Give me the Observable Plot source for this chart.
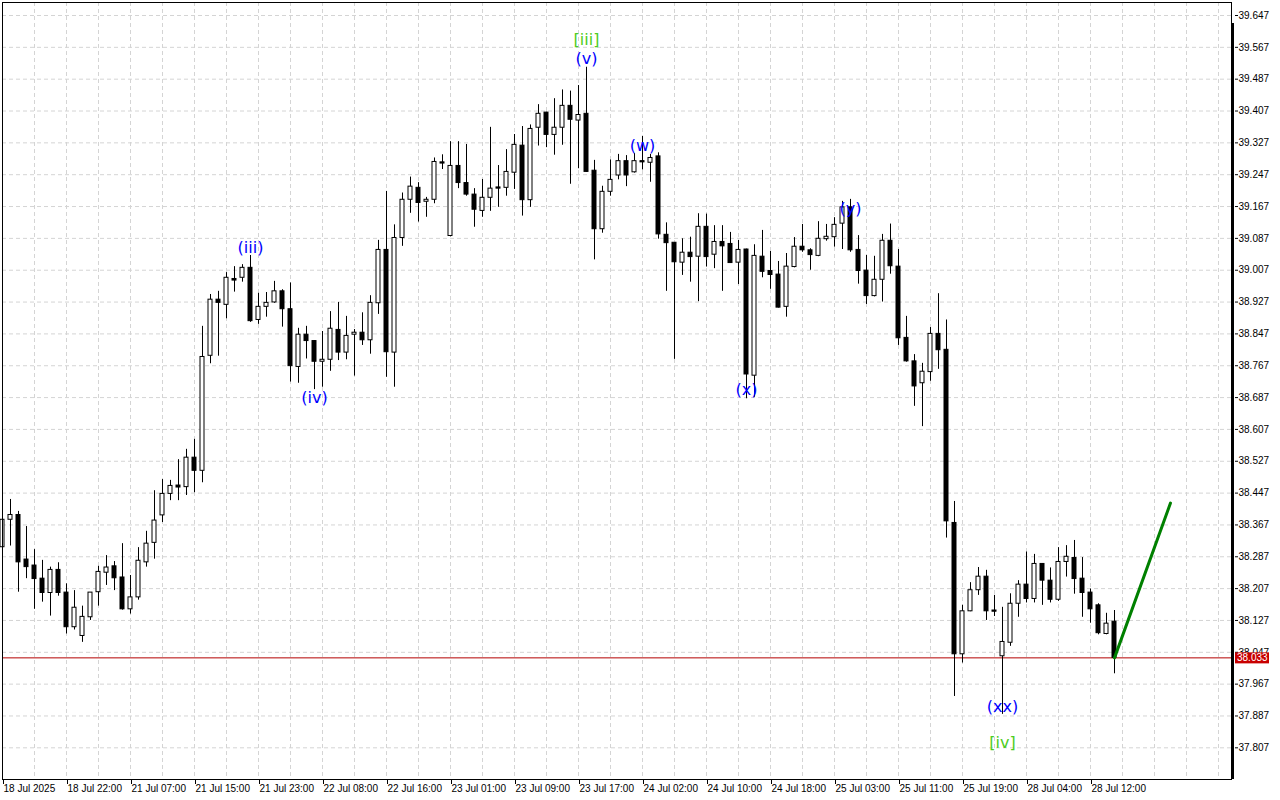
<!DOCTYPE html>
<html><head><meta charset="utf-8">
<script src="https://cdn.jsdelivr.net/npm/d3@7"></script>
<script src="https://cdn.jsdelivr.net/npm/@observablehq/plot@0.6"></script>
<style>html,body{margin:0;padding:0;background:#fff;overflow:hidden}</style>
</head><body><div id="chart"></div>
<script>
// Hourly OHLC bars (index 0 = 18 Jul 2025 14:00)
const opens = [38.311,38.380,38.392,38.280,38.265,38.232,38.196,38.254,38.197,38.110,
38.088,38.135,38.198,38.247,38.263,38.235,38.155,38.185,38.273,38.322,
38.391,38.445,38.466,38.462,38.536,38.503,38.792,38.933,38.920,38.985,
38.988,39.013,38.882,38.915,38.926,38.954,38.909,38.764,38.845,38.829,
38.777,38.782,38.857,38.800,38.845,38.850,38.831,38.924,39.058,38.800,
39.088,39.184,39.214,39.179,39.184,39.278,39.093,39.269,39.226,39.197,
39.156,39.189,39.215,39.214,39.252,39.320,39.183,39.365,39.403,39.347,
39.365,39.420,39.383,39.400,39.257,39.110,39.204,39.245,39.281,39.253,
39.281,39.277,39.293,39.096,39.076,39.026,39.051,39.041,39.116,39.046,
39.078,39.073,39.026,39.059,38.742,39.041,39.005,38.996,38.915,39.015,
39.066,39.057,39.043,39.085,39.090,39.124,39.165,39.058,39.006,38.942,
38.983,39.081,39.016,38.837,38.778,38.723,38.751,38.847,38.807,38.372,
38.042,38.150,38.203,38.237,38.152,38.037,38.071,38.169,38.217,38.181,
38.269,38.227,38.179,38.274,38.284,38.232,38.197,38.165,38.093,38.124];
const highs = [38.398,38.431,38.401,38.363,38.305,38.278,38.261,38.272,38.219,38.202,
38.163,38.197,38.263,38.290,38.275,38.320,38.240,38.310,38.351,38.453,
38.481,38.479,38.531,38.557,38.582,38.866,38.946,38.954,39.001,39.016,
39.021,39.044,38.949,38.951,38.979,38.958,38.975,38.861,38.866,38.830,
38.853,38.903,38.926,38.891,38.858,38.900,38.943,39.082,39.205,39.121,
39.201,39.241,39.227,39.190,39.289,39.297,39.330,39.330,39.323,39.212,
39.235,39.366,39.270,39.310,39.348,39.368,39.372,39.423,39.404,39.438,
39.460,39.457,39.471,39.517,39.283,39.218,39.284,39.298,39.295,39.300,
39.343,39.298,39.302,39.126,39.076,39.086,39.090,39.149,39.148,39.119,
39.119,39.102,39.082,39.060,39.071,39.107,39.054,39.029,39.049,39.089,
39.122,39.061,39.129,39.122,39.139,39.180,39.185,39.094,39.044,39.042,
39.097,39.123,39.059,38.891,38.795,38.773,38.863,38.948,38.882,38.426,
38.165,38.222,38.260,38.253,38.190,38.160,38.194,38.227,38.299,38.293,
38.270,38.259,38.310,38.315,38.328,38.285,38.206,38.169,38.145,38.152];
const lows = [38.303,38.314,38.198,38.232,38.155,38.173,38.138,38.188,38.093,38.103,
38.072,38.127,38.163,38.215,38.202,38.153,38.143,38.178,38.261,38.281,
38.373,38.428,38.428,38.441,38.448,38.473,38.772,38.791,38.885,38.952,
38.977,38.876,38.871,38.889,38.924,38.864,38.726,38.723,38.784,38.707,
38.713,38.753,38.780,38.782,38.741,38.818,38.796,38.896,38.738,38.713,
39.067,39.150,39.128,39.140,39.174,39.260,39.091,39.212,39.193,39.115,
39.140,39.155,39.165,39.193,39.210,39.143,39.165,39.319,39.315,39.296,
39.321,39.223,39.262,39.253,39.033,39.100,39.193,39.234,39.217,39.251,
39.259,39.228,39.085,38.954,38.783,38.994,38.977,38.928,39.015,39.011,
38.954,39.024,38.971,38.684,38.688,38.988,38.959,38.912,38.889,39.013,
39.052,39.007,39.041,39.080,39.065,39.059,39.052,38.972,38.921,38.940,
38.927,38.997,38.818,38.776,38.665,38.614,38.728,38.758,38.334,37.936,
38.020,38.149,38.190,38.127,38.137,37.891,38.062,38.135,38.171,38.171,
38.165,38.171,38.175,38.236,38.193,38.135,38.120,38.091,38.091,37.993];
const closes = [38.380,38.392,38.273,38.261,38.231,38.196,38.254,38.196,38.110,38.159,
38.136,38.197,38.249,38.260,38.233,38.155,38.185,38.277,38.320,38.378,
38.445,38.465,38.461,38.536,38.503,38.789,38.933,38.925,38.988,38.981,
39.013,38.879,38.915,38.925,38.954,38.909,38.766,38.845,38.829,38.777,
38.782,38.860,38.800,38.842,38.850,38.831,38.925,39.058,38.801,39.088,
39.184,39.217,39.176,39.184,39.279,39.275,39.269,39.226,39.197,39.159,
39.189,39.212,39.212,39.254,39.322,39.183,39.362,39.400,39.347,39.365,
39.420,39.385,39.397,39.254,39.110,39.204,39.234,39.281,39.245,39.281,
39.278,39.289,39.097,39.075,39.027,39.051,39.040,39.116,39.040,39.078,
39.067,39.025,39.058,38.745,39.043,39.003,38.995,38.913,39.016,39.066,
39.057,39.045,39.086,39.091,39.121,39.165,39.057,39.005,38.942,38.983,
39.081,39.017,38.836,38.778,38.715,38.752,38.847,38.806,38.376,38.042,
38.150,38.203,38.237,38.150,38.149,38.073,38.169,38.217,38.181,38.269,
38.227,38.179,38.274,38.287,38.231,38.196,38.155,38.095,38.119,38.033];

const currentPrice = 38.033;

// Price axis ticks
const priceTicks = [37.807,37.887,37.967,38.047,38.127,38.207,38.287,38.367,38.447,38.527,
38.607,38.687,38.767,38.847,38.927,39.007,39.087,39.167,39.247,39.327,39.407,39.487,39.567,39.647];

// Time axis ticks (bar index -> label)
const timeTickIndex = [0,8,16,24,32,40,48,56,64,72,80,88,96,104,112,120,128,136];
const timeTickLabels = ["18 Jul 2025","18 Jul 22:00","21 Jul 07:00","21 Jul 15:00","21 Jul 23:00",
"22 Jul 08:00","22 Jul 16:00","23 Jul 01:00","23 Jul 09:00","23 Jul 17:00","24 Jul 02:00",
"24 Jul 10:00","24 Jul 18:00","25 Jul 03:00","25 Jul 11:00","25 Jul 19:00","28 Jul 04:00","28 Jul 12:00"];
const gridIndex = [4,8,12,16,20,24,28,32,36,40,44,48,52,56,60,64,68,72,76,80,84,88,92,96,100,
104,108,112,116,120,124,128,132,136,140,144,148,152];

// Elliott wave labels
const waveText  = ["(iii)","(iv)","[iii]","(v)","(w)","(x)","(y)","(xx)","[iv]"];
const waveIndex = [31,39,73,73,80,93,106,125,125];
const wavePrice = [39.064,38.687,39.587,39.539,39.320,38.707,39.160,37.911,37.820];
const waveColor = ["#0000ff","#0000ff","#4ccc22","#0000ff","#0000ff","#0000ff","#0000ff","#0000ff","#4ccc22"];

// Forecast line
const forecastIndex = [139,146];
const forecastPrice = [38.033,38.422];

const candles = opens.map((o, i) => ({i, open: o, high: highs[i], low: lows[i], close: closes[i], up: closes[i] >= o}));
const waves = waveText.map((t, k) => ({t, i: waveIndex[k], p: wavePrice[k], c: waveColor[k]}));
const forecast = forecastIndex.map((i, k) => ({i, p: forecastPrice[k]}));
const tickLabel = new Map(timeTickIndex.map((i, k) => [i, timeTickLabels[k]]));

const W = 1280, H = 800;
const mL = 2, mR = 49, mT = 2, mB = 21;
const pxPerBar = 8;
const xMax = (W - mR - mL) / pxPerBar;        // bars visible across the frame
const pxPerUnit = 398;                         // price scale density
const yTop = 39.647 + (15 - mT) / pxPerUnit;
const yBot = 39.647 - (H - mB - 15) / pxPerUnit;

const gridStyle = {stroke: "#d4d4d4", strokeOpacity: 1, strokeDasharray: "4,3"};

const chart = Plot.plot({
  width: W, height: H,
  marginLeft: mL, marginRight: mR, marginTop: mT, marginBottom: mB,
  style: {fontFamily: "'Liberation Sans', Arial, sans-serif", fontSize: "10px", background: "#fff", color: "#000", overflow: "visible"},
  x: {domain: [0, xMax]},
  y: {domain: [yBot, yTop]},
  marks: [
    Plot.gridX(gridIndex, gridStyle),
    Plot.gridY(priceTicks, gridStyle),
    Plot.ruleY([currentPrice], {stroke: "#b40000", strokeWidth: 1}),
    Plot.ruleX(candles, {x: "i", y1: "low", y2: "high", stroke: "#000", strokeWidth: 1}),
    Plot.rect(candles, {
      x1: d => d.i - 0.25, x2: d => d.i + 0.25,
      y1: d => Math.min(d.open, d.close), y2: d => Math.max(d.open, d.close),
      fill: d => d.up ? "#fff" : "#000", stroke: "#000", strokeWidth: 1
    }),
    Plot.line(forecast, {x: "i", y: "p", stroke: "#008000", strokeWidth: 3}),
    Plot.text(waves, {x: "i", y: "p", text: "t", fill: "c", fontSize: 16, fontFamily: "'DejaVu Sans', sans-serif"}),
    Plot.frame({stroke: "#000"}),
    Plot.ruleX([xMax], {y1: 39.627, y2: yBot, stroke: "#000", strokeWidth: 3, dx: 1}),
    Plot.axisY(priceTicks, {anchor: "right", tickSize: 3, tickPadding: 1, dx: 3, fontSize: 10, tickFormat: d => d.toFixed(3), label: null}),
    Plot.axisX(timeTickIndex, {anchor: "bottom", tickSize: 5, tickPadding: 0, fontSize: 10, textAnchor: "start", dx: 1, tickFormat: i => tickLabel.get(i), label: null})
  ]
});

// current price tag on the price axis (vertical position from the y scale)
const ys = chart.scale("y");
const svg = d3.select(chart);
const tagY = ys.apply(currentPrice);
const tagX = W - mR + 4;
const g = svg.append("g");
g.append("rect").attr("x", tagX).attr("y", tagY - 5).attr("width", 34).attr("height", 11).attr("fill", "#c80000");
g.append("text").attr("x", tagX + 2).attr("y", tagY + 0.5).attr("dy", "0.35em").attr("fill", "#fff")
  .attr("font-size", 10).attr("text-anchor", "start").text(currentPrice.toFixed(3));

document.getElementById("chart").append(chart);
</script>
</body></html>
